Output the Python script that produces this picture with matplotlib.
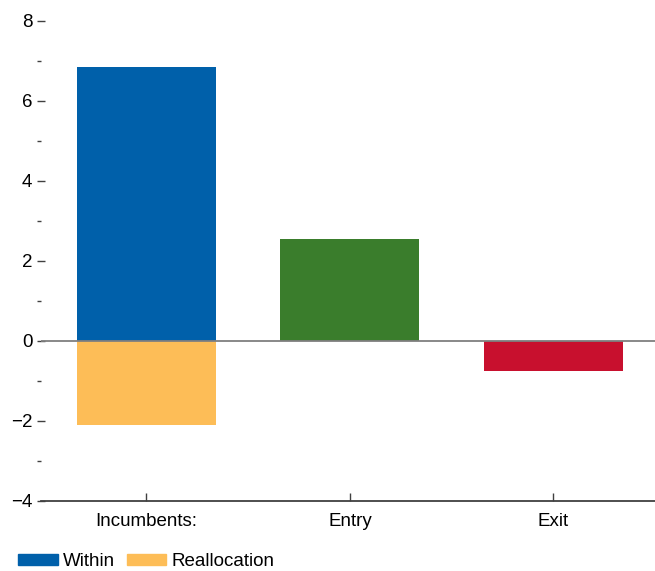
import matplotlib
matplotlib.use("Agg")
import matplotlib.pyplot as plt
from matplotlib.patches import Patch

# data
categories = ["Incumbents:", "Entry", "Exit"]
within = [6.84, 0, 0]
reallocation = [-2.1, 0, 0]
entry_exit = [0, 2.54, -0.75]
entry_exit_colors = ["none", "#3A7D2C", "#C8102E"]
y_major = [-4, -2, 0, 2, 4, 6, 8]
y_minor = [-3, -1, 1, 3, 5, 7]
y_labels = ["\u22124", "\u22122", "0", "2", "4", "6", "8"]

blue = "#0060AA"
orange = "#FDBD57"

plt.rcParams["font.family"] = ["Liberation Sans", "DejaVu Sans"]
plt.rcParams["font.size"] = 13.5

fig = plt.figure(figsize=(6.55, 5.71), dpi=100)
ax = fig.add_axes([40.7 / 655, 1 - 500.7 / 571, 1 - 40.7 / 655, 480 / 571])

x = range(len(categories))
w = 0.683
ax.bar(x, within, width=w, color=blue, zorder=2)
ax.bar(x, reallocation, width=w, color=orange, zorder=2)
for i, (v, c) in enumerate(zip(entry_exit, entry_exit_colors)):
    if v != 0:
        ax.bar(i, v, width=w, color=c, zorder=2)

ax.axhline(0, color="#7f7f7f", lw=1.3, zorder=3)

ax.set_xlim(-0.52, 2.5)
ax.set_ylim(-4, 8)
ax.set_xticks(list(x))
ax.set_xticklabels(categories)
ax.set_yticks(y_major)
ax.set_yticklabels(y_labels)
ax.set_yticks(y_minor, minor=True)

for s in ["top", "right", "left"]:
    ax.spines[s].set_visible(False)
ax.spines["bottom"].set_color("#404040")
ax.spines["bottom"].set_linewidth(1.3)

ax.tick_params(axis="x", direction="in", length=5.5, width=1, color="#404040", pad=8.5)
ax.tick_params(axis="y", which="major", direction="inout", length=5.3, width=1,
               color="#404040", pad=3.4)
ax.tick_params(axis="y", which="minor", direction="out", length=2.9, width=1,
               color="#404040")

handles = [Patch(color=blue, label="Within"), Patch(color=orange, label="Reallocation")]
fig.legend(handles=handles, loc="lower left", bbox_to_anchor=(9 / 655, -0.015),
           ncol=2, frameon=False, borderpad=0, handlelength=2.1, handleheight=0.5,
           handletextpad=0.3, columnspacing=0.6)

fig.savefig("out.png", dpi=100)
